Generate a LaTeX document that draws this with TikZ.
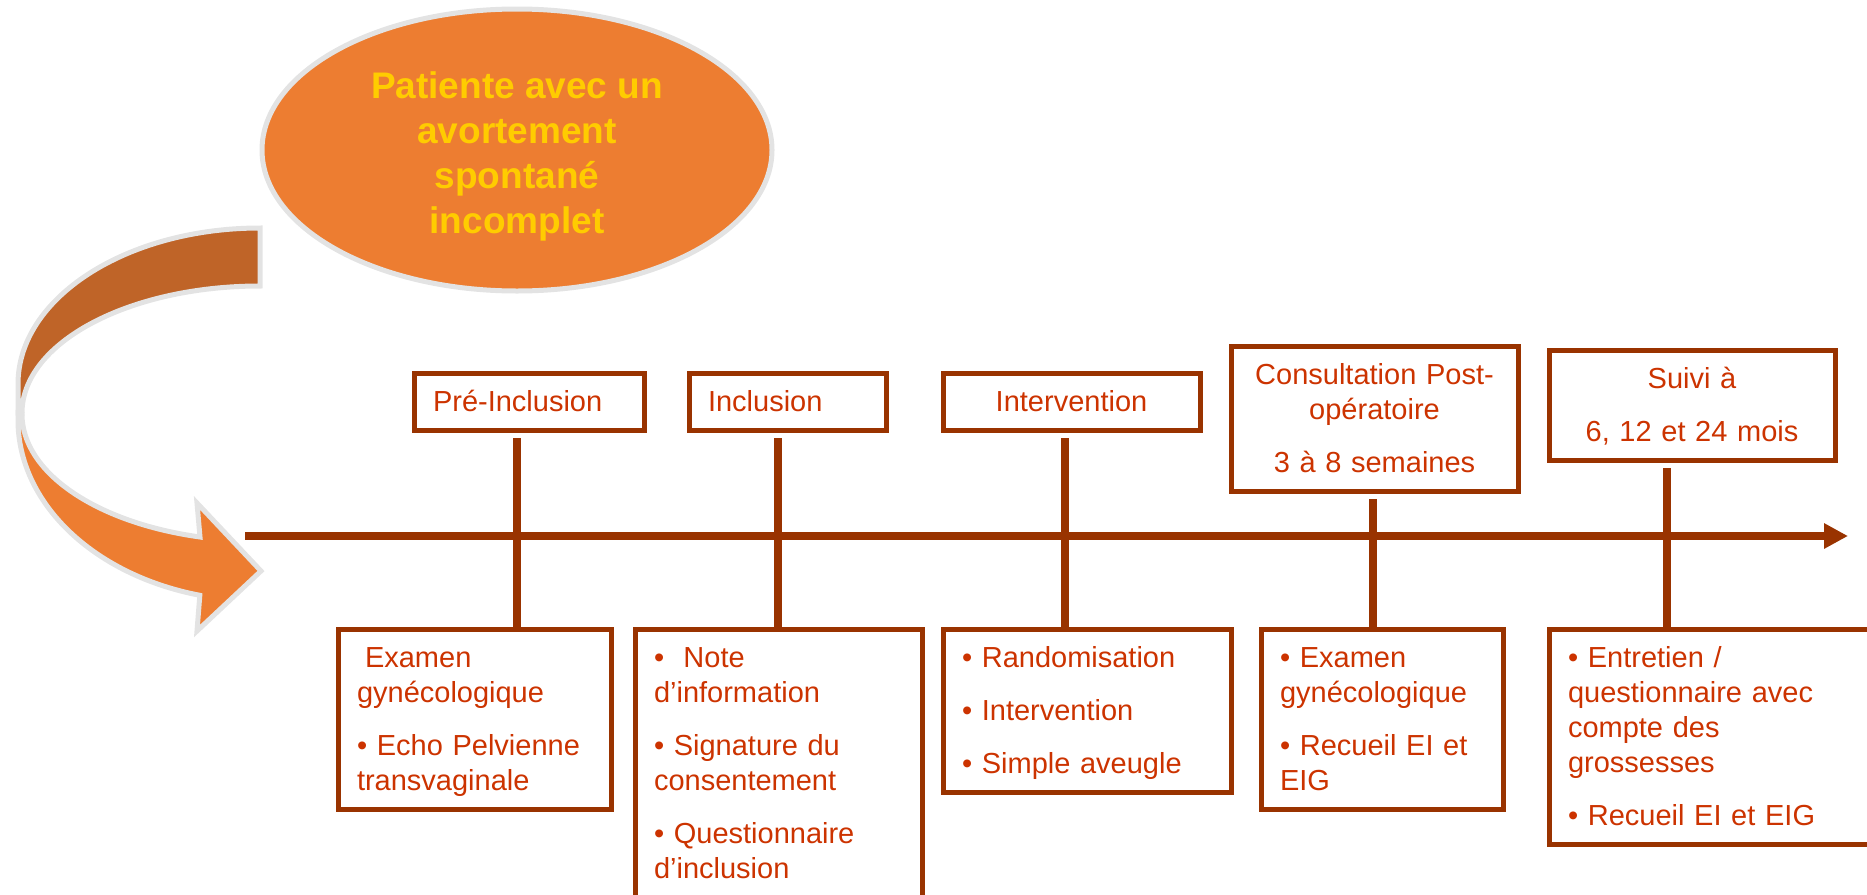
\documentclass[tikz,border=0pt]{standalone}
\usepackage{fontspec}
\setmainfont{Liberation Sans}
\usetikzlibrary{arrows.meta,shapes.geometric}
\definecolor{brique}{HTML}{993300}
\definecolor{texterouge}{HTML}{CC3300}
\definecolor{orangeclair}{HTML}{ED7D31}
\definecolor{orangesombre}{HTML}{BF6428}
\definecolor{jaune}{HTML}{FFCC00}
\definecolor{contour}{HTML}{E3E3E3}
\newcommand{\haussee}{\rule{0pt}{20pt}}
\tikzset{
    etape/.style={
           rectangle,
           draw=brique,
           line width=2.5pt,
           text=texterouge,
           font=\fontsize{14.5}{17.5}\selectfont,
           inner xsep=9.5pt,
           inner ysep=3pt,
           anchor=north west,
           execute at begin node=\rule{0pt}{16.25pt},
           execute at end node=\rule[-6.25pt]{0pt}{0pt},
           },
    bulle/.style={
           ellipse,
           fill=orangeclair,
           draw=contour,
           line width=2.5pt,
           text=jaune,
           font=\bfseries\fontsize{18.5}{22.5}\selectfont,
           align=center,
           minimum width=255pt,
           minimum height=141pt,
           inner sep=0pt,
           },
    bande/.style={draw=contour,line width=2.5pt},
    axe/.style={draw=brique,line width=3.75pt,-{Triangle[length=12pt,width=12pt]}},
    trait/.style={draw=brique,line width=4pt,shorten <=2.75pt},
}

\begin{document}
\begin{tikzpicture}[x=0.5pt,y=-0.5pt]
\useasboundingbox (0,0) rectangle (1867,894);
% fleche courbe
\path[bande,fill=orangesombre] (260,228) arc[start angle=270,end angle=180,x radius=242,y radius=156]
      -- (18,413) -- (22,413) arc[start angle=180,end angle=270,x radius=238,y radius=127] -- cycle;
\path[bande,fill=orangeclair] (18,413) -- (18,420) arc[start angle=180,end angle=104.4,x radius=242,y radius=181]
      -- (197,631) -- (261,571) -- (197,503) -- (200,537)
      arc[start angle=104.6,end angle=180,x radius=238,y radius=127] -- cycle;
\node[bulle](patiente) at (517,150) {\haussee Patiente avec un\\avortement\\spontané\\incomplet};
% axe du temps
\coordinate (debut) at (245,536);
\coordinate (fin) at (1848,536);
\coordinate (c1) at (517,536);
\coordinate (c2) at (778,536);
\coordinate (c3) at (1065,536);
\coordinate (c4) at (1373,536);
\coordinate (c5) at (1667,536);
\draw[axe] (debut) -- (fin);
% etapes
\node[etape,text width=96pt,align=left](preinclusion) at (411.5,370.5) {Pré-Inclusion};
\node[etape,text width=79.5pt,align=left](inclusion) at (686.5,370.5) {Inclusion};
\node[etape,text width=109.5pt,align=center](intervention) at (940.5,370.5) {Intervention};
\node[etape,text width=124.5pt,align=center](consultation) at (1228.5,343.5) {Consultation Post-\\opératoire\\[9pt]3 à 8 semaines};
\node[etape,text width=124pt,align=center](suivi) at (1546.5,347.5) {Suivi à\\[9pt]6, 12 et 24 mois};
% details
\node[etape,text width=117.5pt,align=left](examen) at (335.5,626.5) {\hspace*{4pt}Examen\\gynécologique\\[9pt]• Echo Pelvienne\\transvaginale};
\node[etape,text width=124.5pt,align=left](note) at (632.5,626.5) {•\ \ Note\\d’information\\[9pt]• Signature du\\consentement\\[9pt]• Questionnaire\\d’inclusion};
\node[etape,text width=125pt,align=left](randomisation) at (940.5,626.5) {• Randomisation\\[9pt]• Intervention\\[9pt]• Simple aveugle};
\node[etape,text width=102pt,align=left](recueil) at (1258.5,626.5) {• Examen\\gynécologique\\[9pt]• Recueil EI et\\EIG};
\node[etape,text width=141pt,align=left](entretien) at (1546.5,626.5) {• Entretien /\\questionnaire avec\\compte des\\grossesses\\[9pt]• Recueil EI et EIG};
\foreach \haut/\bas/\c in {preinclusion/examen/c1,inclusion/note/c2,intervention/randomisation/c3,consultation/recueil/c4,suivi/entretien/c5}
    \draw[trait] (\c |- \haut.south) -- (\c |- \bas.north);
\end{tikzpicture}
\end{document}
